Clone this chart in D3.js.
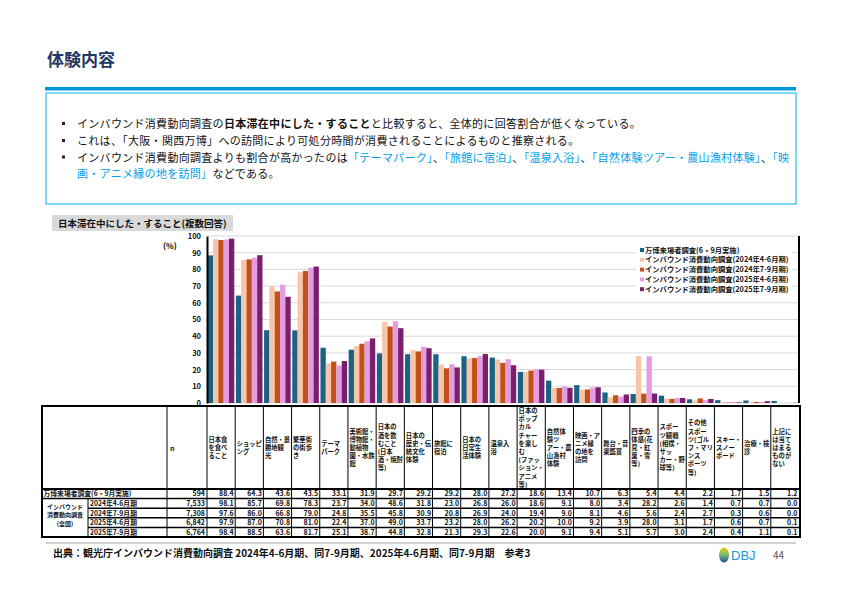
<!DOCTYPE html>
<html>
<head>
<meta charset="utf-8">
<script src="https://cdn.jsdelivr.net/npm/d3@7"></script>
<style>
  body { margin: 0; background: #fff; }
  svg { font-family: "Noto Sans CJK JP", "Noto Sans", sans-serif; }
</style>
</head>
<body>
<div id="chart"></div>
<script>
// categories, "|" marks a line break in the table header
var categories = [
  "日本食|を食べ|ること", "ショッピ|ング", "自然・景|勝地観|光", "繁華街|の街歩|き", "テーマ|パーク",
  "美術館・|博物館・|動植物|園・水族|館", "日本の|酒を飲|むこと|(日本|酒・焼酎|等)", "日本の|歴史・伝|統文化|体験",
  "旅館に|宿泊", "日本の|日常生|活体験", "温泉入|浴",
  "日本の|ポップ|カル|チャー|を楽し|む|(ファッ|ション・|アニメ|等)",
  "自然体|験ツ|アー・農|山漁村|体験", "映画・ア|ニメ縁|の地を|訪問", "舞台・音|楽鑑賞",
  "四季の|体感(花|見・紅|葉・雪|等)", "スポー|ツ観戦|(相撲・|サッ|カー・野|球等)",
  "その他|スポー|ツ(ゴル|フ・マリ|ンス|ポーツ|等)", "スキー・|スノー|ボード", "治療・検|診",
  "上記に|は当て|はまる|ものが|ない"
];

var seriesNames = [
  "万博来場者調査(6・9月実施)",
  "インバウンド消費動向調査(2024年4-6月期)",
  "インバウンド消費動向調査(2024年7-9月期)",
  "インバウンド消費動向調査(2025年4-6月期)",
  "インバウンド消費動向調査(2025年7-9月期)"
];
var rowLabels = ["2024年4-6月期", "2024年7-9月期", "2025年4-6月期", "2025年7-9月期"];
var sampleN = ["594", "7,533", "7,308", "6,842", "6,764"];

var expo2025 = [88.4, 64.3, 43.6, 43.5, 33.1, 31.9, 29.7, 29.2, 29.2, 28.0, 27.2, 18.6, 13.4, 10.7, 6.3, 5.4, 4.4, 2.2, 1.7, 1.5, 1.2];
var inb2024q2 = [98.1, 85.7, 69.8, 78.3, 23.7, 34.0, 48.6, 31.8, 23.0, 26.8, 26.0, 18.6, 9.1, 8.0, 3.4, 28.2, 2.6, 1.4, 0.7, 0.7, 0.0];
var inb2024q3 = [97.6, 86.0, 66.8, 79.0, 24.8, 35.5, 45.8, 30.9, 20.8, 26.9, 24.0, 19.4, 9.0, 8.1, 4.6, 5.6, 2.4, 2.7, 0.3, 0.6, 0.0];
var inb2025q2 = [97.9, 87.0, 70.8, 81.0, 22.4, 37.0, 49.0, 33.7, 23.2, 28.0, 26.2, 20.2, 10.0, 9.2, 3.9, 28.0, 3.1, 1.7, 0.6, 0.7, 0.1];
var inb2025q3 = [98.4, 88.5, 63.6, 81.7, 25.1, 38.7, 44.8, 32.8, 21.3, 29.3, 22.6, 20.0, 9.1, 9.4, 5.1, 5.7, 3.0, 2.4, 0.4, 1.1, 0.1];
var yTicks = [0, 10, 20, 30, 40, 50, 60, 70, 80, 90, 100];

var series = [expo2025, inb2024q2, inb2024q3, inb2025q2, inb2025q3];
var colors = ["#1b6283", "#f7c5a9", "#c1501b", "#e49de0", "#7a1f6e"];

var W = 842, H = 596;
var svg = d3.select('#chart').append('svg')
  .attr('width', W).attr('height', H);

// page title + header rule
svg.append('text').attr('x', 47).attr('y', 66)
  .style('font-size', '17px').style('font-weight', 'bold').style('fill', '#1f3864')
  .text('体験内容');
svg.append('rect').attr('x', 45).attr('y', 87).attr('width', 751).attr('height', 3.5).attr('fill', '#0096db');
svg.append('rect').attr('x', 46).attr('y', 93).attr('width', 750).attr('height', 111)
  .attr('fill', 'none').attr('stroke', '#00b0f0').attr('stroke-width', 1);

// bullet text (the last item wraps onto a second line)
var blue = '#00a0e9';
var bullets = [
  { y: [128], lines: [[["インバウンド消費動向調査の"], ["日本滞在中にした・すること", null, true], ["と比較すると、全体的に回答割合が低くなっている。"]]] },
  { y: [145], lines: [[["これは、「大阪・関西万博」への訪問により可処分時間が消費されることによるものと推察される。"]]] },
  { y: [161.5, 177.5], lines: [
      [["インバウンド消費動向調査よりも割合が高かったのは"], ["「テーマパーク」", blue], ["、"], ["「旅館に宿泊」", blue], ["、"], ["「温泉入浴」", blue], ["、"], ["「自然体験ツアー・農山漁村体験」", blue], ["、"], ["「映", blue]],
      [["画・アニメ縁の地を訪問」", blue], ["などである。"]]
    ] }
];
bullets.forEach(function(b){
  svg.append('rect').attr('x', 62).attr('y', b.y[0] - 6).attr('width', 3).attr('height', 3).attr('fill', '#222');
  var t = svg.append('text').style('font-size', '11px').style('letter-spacing', '0.3px').style('fill', '#111');
  b.lines.forEach(function(parts, k){
    parts.forEach(function(p, m){
      var ts = t.append('tspan').text(p[0])
        .style('fill', p[1] || '#111')
        .style('font-weight', p[2] ? 'bold' : 'normal');
      if (m === 0) ts.attr('x', 77).attr('y', b.y[k]);
    });
  });
});

// chart tag
svg.append('rect').attr('x', 52).attr('y', 215).attr('width', 181).attr('height', 16).attr('fill', '#d9d9d9');
svg.append('text').attr('x', 58).attr('y', 227)
  .style('font-size', '9.5px').style('font-weight', 'bold').style('fill', '#111')
  .text('日本滞在中にした・すること(複数回答)');

// scales
var plotL = 207, plotR = 799, plotT = 236, plotB = 403;
var x = d3.scaleBand().domain(categories).range([plotL, plotR]);
var bw = x.bandwidth();
var xs = d3.scaleBand().domain(d3.range(series.length)).range([0.7, bw - 0.9]);
var y = d3.scaleLinear().domain([0, 100]).range([plotB, plotT]);

// gridlines
svg.append('g').selectAll('line').data(yTicks).enter().append('line')
  .attr('x1', plotL).attr('x2', plotR)
  .attr('y1', function(d){ return y(d); }).attr('y2', function(d){ return y(d); })
  .attr('stroke', '#d9d9d9').attr('stroke-width', 1);

// bars
var groups = svg.append('g').selectAll('g').data(categories).enter().append('g')
  .attr('transform', function(d){ return 'translate(' + x(d) + ',0)'; });
groups.selectAll('rect').data(function(d, i){
    return series.map(function(s, j){ return { s: j, v: s[i] }; });
  }).enter().append('rect')
  .attr('x', function(d){ return xs(d.s); })
  .attr('width', xs.bandwidth())
  .attr('y', function(d){ return y(d.v); })
  .attr('height', function(d){ return plotB - y(d.v); })
  .attr('fill', function(d){ return colors[d.s]; });

// y axis
var yAxis = svg.append('g').attr('transform', 'translate(' + plotL + ',0)')
  .call(d3.axisLeft(y).tickValues(yTicks).tickSize(0).tickPadding(6));
yAxis.select('.domain').attr('stroke', '#000').attr('stroke-width', 2);
yAxis.selectAll('text').style('font-size', '7.5px').style('font-weight', 'bold')
  .style('font-family', '"Noto Sans CJK JP", sans-serif').attr('fill', '#111');
svg.append('line').attr('x1', plotR).attr('x2', plotR).attr('y1', plotT).attr('y2', plotB)
  .attr('stroke', '#000').attr('stroke-width', 2);
svg.append('text').attr('x', 163).attr('y', 249)
  .style('font-size', '8px').style('font-weight', 'bold').text('(%)');

// legend
var lg = svg.append('g').attr('transform', 'translate(636,243)');
lg.append('rect').attr('width', 156).attr('height', 52).attr('fill', '#fff');
seriesNames.forEach(function(name, i){
  lg.append('rect').attr('x', 4).attr('y', 5 + i * 9.8).attr('width', 4).attr('height', 4).attr('fill', colors[i]);
  lg.append('text').attr('x', 9).attr('y', 9.6 + i * 9.8)
    .style('font-size', '7.3px').style('font-weight', 'bold').style('fill', '#111').text(name);
});

// data table
var tT = 406, tHead = 489, rowH = 9.6;
var tL = 42, cGroup = 88, cLabel = 167, cN = 207, tR = 800;
var tb = svg.append('g').style('font-weight', 'bold').style('fill', '#111');

// header labels
categories.forEach(function(c){
  var lines = c.split('|');
  var lh = 8.2;
  var top = (tT + tHead) / 2 - lines.length * lh / 2;
  var t = tb.append('text').style('font-size', '6.3px');
  lines.forEach(function(l, k){
    t.append('tspan').attr('x', x(c) + 1.5).attr('y', top + (k + 0.8) * lh).text(l);
  });
});
tb.append('text').attr('x', cLabel + 3).attr('y', (tT + tHead) / 2 + 3)
  .style('font-size', '7px').text('n');

// rows
var rowsY = d3.range(6).map(function(i){ return tHead + i * rowH; });
series.forEach(function(s, j){
  var ty = rowsY[j] + rowH - 2.2;
  tb.append('text').attr('x', cN - 2).attr('y', ty).attr('text-anchor', 'end')
    .style('font-size', '7px').text(sampleN[j]);
  categories.forEach(function(c, i){
    tb.append('text').attr('x', x(c) + bw - 1.5).attr('y', ty).attr('text-anchor', 'end')
      .style('font-size', '7px').text(s[i].toFixed(1));
  });
  if (j === 0) {
    tb.append('text').attr('x', tL + 1.5).attr('y', ty).style('font-size', '6.8px').text(seriesNames[0]);
  } else {
    tb.append('text').attr('x', cGroup + 2).attr('y', ty).style('font-size', '6.8px').text(rowLabels[j - 1]);
  }
});
var gl = tb.append('text').attr('text-anchor', 'middle').style('font-size', '6px');
['インバウンド', '消費動向調査', '(全国)'].forEach(function(l, k){
  gl.append('tspan').attr('x', (tL + cGroup) / 2).attr('y', 508.5 + k * 8.8).text(l);
});

// table lines
var ln = svg.append('g').attr('stroke', '#000');
ln.append('rect').attr('x', tL).attr('y', tT).attr('width', tR - tL).attr('height', rowsY[5] - tT)
  .attr('fill', 'none').attr('stroke-width', 2);
ln.append('line').attr('x1', tL).attr('x2', tR).attr('y1', tHead).attr('y2', tHead).attr('stroke-width', 2);
ln.append('line').attr('x1', tL).attr('x2', tR).attr('y1', rowsY[1]).attr('y2', rowsY[1]).attr('stroke-width', 1.5);
[2, 3, 4].forEach(function(k){
  ln.append('line').attr('x1', cGroup).attr('x2', tR).attr('y1', rowsY[k]).attr('y2', rowsY[k]).attr('stroke-width', 1.5);
});
ln.append('line').attr('x1', cGroup).attr('x2', cGroup).attr('y1', rowsY[1]).attr('y2', rowsY[5]).attr('stroke-width', 1);
[cLabel, cN].concat(categories.slice(1).map(function(c){ return x(c); })).forEach(function(vx){
  ln.append('line').attr('x1', vx).attr('x2', vx).attr('y1', tT).attr('y2', rowsY[5]).attr('stroke-width', 1);
});

// footer
svg.append('line').attr('x1', 46).attr('x2', 796).attr('y1', 543).attr('y2', 543)
  .attr('stroke', '#c0c0c0').attr('stroke-width', 1.5);
svg.append('text').attr('x', 53).attr('y', 557)
  .style('font-size', '10px').style('font-weight', 'bold').style('fill', '#111')
  .text('出典：観光庁インバウンド消費動向調査 2024年4-6月期、同7-9月期、2025年4-6月期、同7-9月期　参考3');

// logo + page number
var grad = svg.append('defs').append('linearGradient').attr('id', 'lg1').attr('x1', 0).attr('x2', 0).attr('y1', 0).attr('y2', 1);
grad.append('stop').attr('offset', '0%').attr('stop-color', '#f5c400');
grad.append('stop').attr('offset', '45%').attr('stop-color', '#7cc36a');
grad.append('stop').attr('offset', '100%').attr('stop-color', '#1b4fa0');
svg.append('ellipse').attr('cx', 724).attr('cy', 555).attr('rx', 5).attr('ry', 7.5).attr('fill', 'url(#lg1)');
svg.append('text').attr('x', 731).attr('y', 560)
  .style('font-size', '13px').style('fill', '#1a9ad6').style('font-family', '"Liberation Sans", sans-serif').text('DBJ');
svg.append('text').attr('x', 773).attr('y', 559)
  .style('font-size', '10px').style('fill', '#555').text('44');
</script>
</body>
</html>
